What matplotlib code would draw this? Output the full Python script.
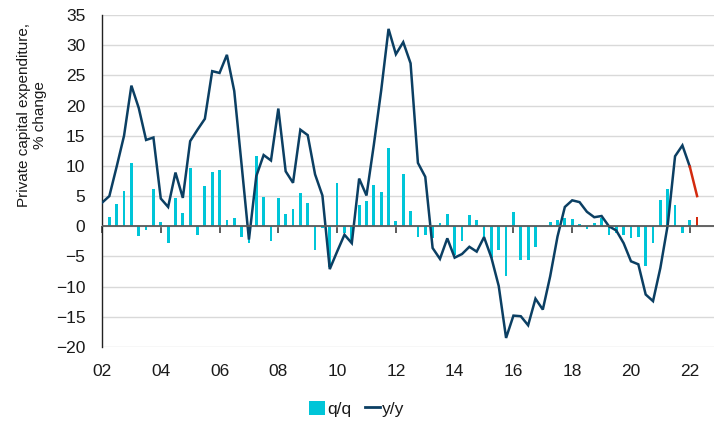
import numpy as np
import matplotlib
matplotlib.use("Agg")
import matplotlib.pyplot as plt
from matplotlib.patches import Patch
from matplotlib.lines import Line2D

plt.rcParams['font.family'] = ['Liberation Sans', 'DejaVu Sans']

# quarterly data, first quarter of 2002 onward
yy = [3.9, 5.0, 9.9, 15.0, 23.3, 19.6, 14.3, 14.7, 4.6, 3.2,
      8.9, 4.7, 14.1, 16.0, 17.8, 25.7, 25.4, 28.4, 22.4, 10.2,
      -2.2, 8.3, 11.8, 10.9, 19.5, 9.1, 7.2, 16.0, 15.1, 8.6,
      5.1, -7.1, -4.2, -1.4, -2.8, 7.9, 5.1, 13.5, 22.5, 32.7,
      28.5, 30.5, 27.0, 10.5, 8.2, -3.6, -5.4, -2.0, -5.2, -4.6,
      -3.4, -4.2, -1.8, -5.2, -9.9, -18.5, -14.8, -14.9, -16.4, -12.0,
      -13.8, -8.3, -1.7, 3.2, 4.3, 4.0, 2.4, 1.5, 1.7, 0.0,
      -0.7, -2.8, -5.8, -6.3, -11.3, -12.4, -6.9, 0.2, 11.6, 13.4,
      9.9, 5.0]
qq = [np.nan, 1.5, 3.7, 5.85, 10.5, -1.65, -0.7, 6.2, 0.75, -2.85,
      4.7, 2.25, 9.7, -1.4, 6.6, 9.0, 9.4, 1.0, 1.4, -1.8,
      -2.8, 11.7, 4.9, -2.5, 4.7, 2.0, 2.9, 5.5, 3.9, -3.9,
      -0.3, -6.7, 7.1, -1.1, -2.5, 3.5, 4.2, 6.8, 5.6, 12.9,
      0.9, 8.6, 2.6, -1.7, -1.4, -2.0, 0.6, 2.0, -4.7, -2.5,
      1.9, 1.0, -1.8, -5.3, -4.0, -8.2, 2.4, -5.6, -5.6, -3.4,
      0.1, 0.7, 1.0, 1.3, 1.2, 0.3, -0.5, 0.55, 1.4, -1.4,
      -1.1, -1.5, -1.9, -1.8, -6.5, -2.8, 4.4, 6.1, 3.6, -1.1,
      1.1, 1.6]
tick_labels = ['02', '04', '06', '08', '10', '12', '14', '16', '18', '20', '22']
n_latest = 1  # number of latest observations highlighted in red

CYAN = '#00C5D8'
NAVY = '#0B3F63'
RED = '#D32A0E'
GRID = '#D9D9D9'
TXT = '#1A1A1A'

x = np.arange(len(yy))
qq_arr = np.array(qq, dtype=float)
yy_arr = np.array(yy, dtype=float)

fig = plt.figure(figsize=(7.14, 4.23), dpi=100)
ax = fig.add_axes([102/714, 1-347/423, (714-102)/714, (347-15)/423])

bar_colors = [CYAN]*(len(x)-n_latest) + [RED]*n_latest
ax.bar(x, qq_arr, width=0.38, color=bar_colors, zorder=2)
k = len(x) - n_latest
ax.plot(x[:k], yy_arr[:k], color=NAVY, lw=1.8, zorder=3, solid_joinstyle='miter')
ax.plot(x[k-1:], yy_arr[k-1:], color=RED, lw=1.8, zorder=3)

ax.set_ylim(-20, 35)
ax.set_xlim(0, 83.3)
ax.set_yticks(np.arange(-20, 36, 5))
ax.yaxis.grid(True, color=GRID, lw=1.0, zorder=0)
ax.set_axisbelow(True)
for s in ['top', 'right', 'bottom']:
    ax.spines[s].set_visible(False)
ax.spines['left'].set_color('#222222')
ax.spines['left'].set_linewidth(1.0)
ax.tick_params(axis='y', length=0, pad=12, labelsize=12.5, labelcolor=TXT)

tick_pos = np.arange(0, len(x), 8)
ax.set_xticks(tick_pos)
ax.set_xticklabels(tick_labels)
ax.tick_params(axis='x', length=0, pad=12, labelsize=12.5, labelcolor=TXT)

ax.axhline(0, color='#595959', lw=1.3, zorder=4)
sec = ax.secondary_xaxis(20/55)
sec.set_xticks(tick_pos)
sec.set_xticklabels([])
sec.tick_params(axis='x', direction='out', length=5, width=1.2, color='#404040')
sec.spines['bottom'].set_visible(False)

ax.set_ylabel('Private capital expenditure,\n% change', fontsize=11, color=TXT,
              linespacing=1.15)
ax.yaxis.set_label_coords(-0.09, 0.70)

handles = [Patch(facecolor=CYAN, edgecolor='none'),
           Line2D([0], [0], color=NAVY, lw=2)]
fig.legend(handles, ['q/q', 'y/y'], loc='center', bbox_to_anchor=(357/714, 1-409/423),
           ncol=2, frameon=False, fontsize=12.5, handlelength=0.9, handleheight=0.9,
           handletextpad=0.1, columnspacing=0.8, labelcolor=TXT)

fig.savefig('out.png', dpi=100)
